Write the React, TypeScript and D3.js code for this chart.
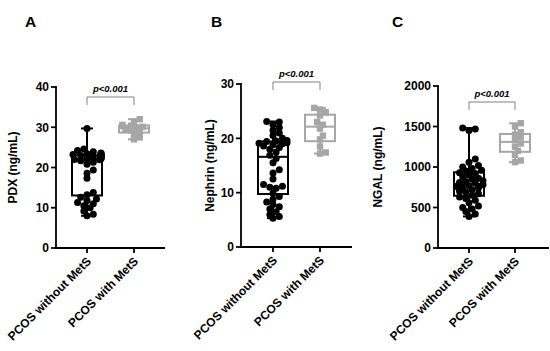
import React from "react";
import * as d3 from "d3";

const categories = ["PCOS without MetS", "PCOS with MetS"];

const pdxWithout = [8.0, 8.4, 9.2, 10.0, 10.5, 11.0, 11.3, 11.8, 12.2, 12.6, 13.2, 13.8, 17.3, 18.6, 19.4, 20.8, 21.3, 21.7, 22.0, 22.2, 22.4, 22.5, 22.6, 22.7, 22.8, 22.9, 23.0, 23.1, 23.2, 23.3, 23.4, 23.6, 23.9, 24.2, 24.6, 22.1, 21.9, 22.3, 23.5, 29.7];
const pdxWith = [27.0, 27.5, 28.3, 28.8, 29.2, 29.6, 29.9, 30.1, 30.4, 30.6, 31.4, 32.0];

const nephrinWithout = [5.3, 5.6, 6.0, 6.5, 7.0, 7.4, 7.8, 8.3, 8.8, 9.3, 9.9, 10.8, 11.2, 11.0, 11.5, 12.5, 13.6, 14.2, 15.5, 16.3, 16.9, 17.5, 18.0, 18.3, 18.6, 18.8, 19.0, 19.1, 19.2, 19.4, 19.5, 19.6, 20.0, 20.5, 21.0, 21.5, 22.0, 22.5, 23.1, 23.0];
const nephrinWith = [17.2, 17.4, 18.5, 19.8, 20.5, 21.8, 22.5, 23.0, 24.2, 24.8, 25.3, 25.6];

const ngalWithout = [390, 420, 450, 480, 500, 520, 560, 590, 610, 630, 650, 670, 690, 700, 720, 740, 750, 760, 770, 780, 800, 810, 820, 830, 850, 860, 880, 900, 920, 930, 950, 960, 980, 1000, 1020, 1060, 1100, 1450, 1480, 1470];
const ngalWith = [1060, 1080, 1150, 1200, 1250, 1290, 1330, 1370, 1400, 1430, 1500, 1540];

const pdxTicks = [0, 10, 20, 30, 40];
const nephrinTicks = [0, 10, 20, 30];
const ngalTicks = [0, 500, 1000, 1500, 2000];

const pLabel = "p<0.001";

const FONT = "'Liberation Sans', Arial, sans-serif";
const BLACK = "#000";
const GRAY = "#a6a6a6";

type PanelProps = {
  letter: string;
  letterX: number;
  axisX: number;
  axisEnd: number;
  y0: number;
  y1: number;
  yMax: number;
  ticks: number[];
  title: string;
  titleX: number;
  groups: number[][];
  catX: number[];
  bracketY: number;
  textY: number;
};

function swarm(vals: number[], y: (v: number) => number, cx: number, r: number, maxHalf: number) {
  const sorted = [...vals].sort((a, b) => a - b);
  const placed: { x: number; y: number }[] = [];
  for (const v of sorted) {
    const py = y(v);
    let px = cx;
    const step = r * 0.9;
    for (let k = 0; k < 40; k++) {
      const off = k === 0 ? 0 : Math.ceil(k / 2) * step * (k % 2 === 1 ? 1 : -1);
      const cand = cx + Math.max(-maxHalf, Math.min(maxHalf, off));
      const ok = placed.every((p) => Math.hypot(p.x - cand, p.y - py) >= r * 1.4);
      if (ok) {
        px = cand;
        break;
      }
      px = cand;
    }
    placed.push({ x: px, y: py });
  }
  return placed;
}

function Panel(p: PanelProps) {
  const y = d3.scaleLinear().domain([0, p.yMax]).range([p.y0, p.y1]);
  const boxW = 30;
  const capW = 12;
  return (
    <g>
      <text x={p.letterX} y={27} fontFamily={FONT} fontWeight="bold" fontSize={15.5} fill={BLACK}>
        {p.letter}
      </text>
      {/* y axis */}
      <line x1={p.axisX} x2={p.axisX} y1={p.y0 + 1} y2={y(p.yMax) - 1} stroke={BLACK} strokeWidth={1.8} />
      {p.ticks.map((t) => (
        <g key={t}>
          <line x1={p.axisX - 5} x2={p.axisX} y1={y(t)} y2={y(t)} stroke={BLACK} strokeWidth={1.8} />
          <text x={p.axisX - 7} y={y(t)} dy="0.36em" textAnchor="end" fontFamily={FONT} fontWeight="bold" fontSize={12} fill={BLACK}>
            {t}
          </text>
        </g>
      ))}
      <text
        transform={`translate(${p.titleX},${(p.y0 + p.y1) / 2}) rotate(-90)`}
        textAnchor="middle"
        dy="0.35em"
        fontFamily={FONT}
        fontWeight="bold"
        fontSize={12}
        fill={BLACK}
      >
        {p.title}
      </text>
      {/* x axis */}
      <line x1={p.axisX - 1} x2={p.axisEnd} y1={p.y0} y2={p.y0} stroke={BLACK} strokeWidth={1.8} />
      {p.catX.map((cx, i) => (
        <g key={i}>
          <line x1={cx} x2={cx} y1={p.y0} y2={p.y0 + 5} stroke={BLACK} strokeWidth={1.8} />
          <text
            transform={`translate(${cx + 2},${p.y0 + 11}) rotate(-45)`}
            textAnchor="end"
            dy="0.35em"
            fontFamily={FONT}
            fontWeight="bold"
            fontSize={12}
            fill={BLACK}
          >
            {categories[i]}
          </text>
        </g>
      ))}
      {/* boxes */}
      {p.groups.map((vals, i) => {
        const s = [...vals].sort((a, b) => a - b);
        const q1 = d3.quantile(s, 0.25)!;
        const med = d3.quantile(s, 0.5)!;
        const q3 = d3.quantile(s, 0.75)!;
        const mn = d3.min(s)!;
        const mx = d3.max(s)!;
        const cx = p.catX[i];
        const col = i === 0 ? BLACK : GRAY;
        const pts = swarm(vals, y, cx, i === 0 ? 3.5 : 3.2, 14);
        return (
          <g key={i}>
            <line x1={cx} x2={cx} y1={y(mn)} y2={y(q1)} stroke={col} strokeWidth={2} />
            <line x1={cx} x2={cx} y1={y(q3)} y2={y(mx)} stroke={col} strokeWidth={2} />
            <line x1={cx - capW / 2} x2={cx + capW / 2} y1={y(mn)} y2={y(mn)} stroke={col} strokeWidth={2} />
            <line x1={cx - capW / 2} x2={cx + capW / 2} y1={y(mx)} y2={y(mx)} stroke={col} strokeWidth={2} />
            <rect x={cx - boxW / 2} y={y(q3)} width={boxW} height={y(q1) - y(q3)} fill="none" stroke={col} strokeWidth={2} />
            <line x1={cx - boxW / 2} x2={cx + boxW / 2} y1={y(med)} y2={y(med)} stroke={col} strokeWidth={2} />
            {pts.map((pt, j) =>
              i === 0 ? (
                <circle key={j} cx={pt.x} cy={pt.y} r={3.5} fill={BLACK} />
              ) : (
                <rect key={j} x={pt.x - 3.2} y={pt.y - 3.2} width={6.4} height={6.4} fill={GRAY} />
              )
            )}
          </g>
        );
      })}
      {/* significance bracket */}
      <path
        d={`M${p.catX[0]},${p.bracketY + 8} V${p.bracketY} H${p.catX[1]} V${p.bracketY + 8}`}
        fill="none"
        stroke="#808080"
        strokeWidth={1}
      />
      <text
        x={(p.catX[0] + p.catX[1]) / 2}
        y={p.textY}
        textAnchor="middle"
        fontFamily={FONT}
        fontWeight="bold"
        fontStyle="italic"
        fontSize={9.5}
        fill={BLACK}
      >
        {pLabel}
      </text>
    </g>
  );
}

export default function App() {
  return (
    <svg width={550} height={351} style={{ position: "absolute", left: 0, top: 0, background: "#fff" }}>
      <rect width={550} height={351} fill="#fff" />
      <Panel
        letter="A" letterX={25} axisX={56} axisEnd={165} y0={248} y1={87} yMax={40}
        ticks={pdxTicks} title="PDX (ng/mL)" titleX={13}
        groups={[pdxWithout, pdxWith]} catX={[87, 134]} bracketY={97} textY={92}
      />
      <Panel
        letter="B" letterX={211} axisX={241} axisEnd={352} y0={247} y1={84} yMax={30}
        ticks={nephrinTicks} title="Nephrin (ng/mL)" titleX={210}
        groups={[nephrinWithout, nephrinWith]} catX={[273, 320]} bracketY={82} textY={77}
      />
      <Panel
        letter="C" letterX={392} axisX={438} axisEnd={549} y0={248} y1={86} yMax={2000}
        ticks={ngalTicks} title="NGAL (ng/mL)" titleX={378}
        groups={[ngalWithout, ngalWith]} catX={[469, 515]} bracketY={102} textY={97}
      />
    </svg>
  );
}
